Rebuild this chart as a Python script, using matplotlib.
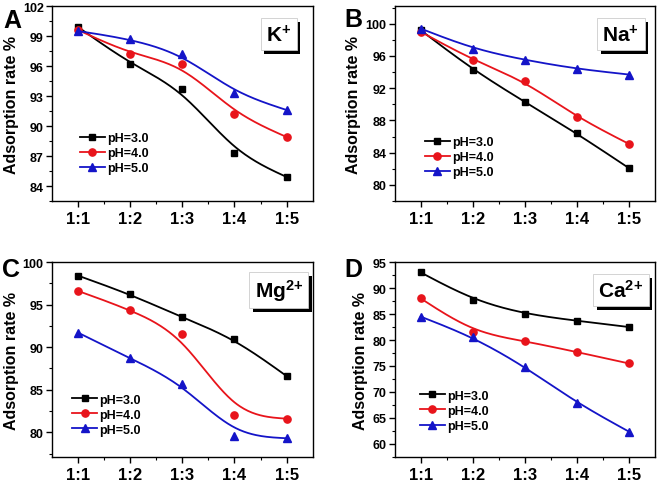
import numpy as np
import matplotlib
matplotlib.use('Agg')
import matplotlib.pyplot as plt
import matplotlib.patheffects as pe

plt.rcParams['font.family'] = ['Liberation Sans', 'DejaVu Sans']
plt.rcParams['font.weight'] = 'bold'
plt.rcParams['mathtext.fontset'] = 'custom'
plt.rcParams['mathtext.rm'] = 'Liberation Sans:bold'
plt.rcParams['mathtext.bf'] = 'Liberation Sans:bold'
plt.rcParams['mathtext.default'] = 'bf'

ratios = ['1:1', '1:2', '1:3', '1:4', '1:5']
ph_labels = ['pH=3.0', 'pH=4.0', 'pH=5.0']

# 吸附率数据
k_vals = [[99.9, 96.2, 93.7, 87.3, 84.9],
          [99.6, 97.2, 96.2, 91.2, 88.9],
          [99.5, 98.7, 97.2, 93.3, 91.6]]
na_vals = [[99.2, 94.3, 90.3, 86.4, 82.1],
           [99.0, 95.5, 92.9, 88.4, 85.1],
           [99.4, 96.9, 95.5, 94.4, 93.7]]
mg_vals = [[98.4, 96.2, 93.5, 91.0, 86.6],
           [96.6, 94.4, 91.5, 82.0, 81.6],
           [91.7, 88.7, 85.7, 79.6, 79.3]]
ca_vals = [[93.0, 87.7, 85.0, 83.7, 82.5],
           [88.0, 81.5, 79.8, 77.7, 75.5],
           [84.5, 80.6, 74.9, 67.9, 62.4]]

colors = ['black', '#e8141b', '#1414c8']
markers = ['s', 'o', '^']
msizes = [4.5, 5.2, 5.5]


# 均匀三次 B 样条（数据点作控制点，端点反射）
def bspline(p, n=40):
    p = np.asarray(p, dtype=float)
    e = np.concatenate([[2 * p[0] - p[1]], p, [2 * p[-1] - p[-2]]])
    t = np.linspace(0, 1, n)
    b0 = (1 - t) ** 3 / 6
    b1 = (3 * t ** 3 - 6 * t ** 2 + 4) / 6
    b2 = (-3 * t ** 3 + 3 * t ** 2 + 3 * t + 1) / 6
    b3 = t ** 3 / 6
    out = [b0 * e[i] + b1 * e[i + 1] + b2 * e[i + 2] + b3 * e[i + 3]
           for i in range(len(e) - 3)]
    return np.concatenate(out)


panels = [
    ('A', r'K$^{+}$', k_vals, (82.9, 102), np.arange(84, 103, 3), 1.5,
     [0.0788, 0.5835, 0.395, 0.402], (0.107, 0.354), (3, 9)),
    ('B', r'Na$^{+}$', na_vals, (80, 102.2), np.arange(80, 101, 4), 2,
     [0.598, 0.5835, 0.394, 0.402], (0.115, 0.334), (344, 8)),
    ('C', r'Mg$^{\text{2+}}$', mg_vals, (77.1, 100), np.arange(80, 101, 5), 2.5,
     [0.0788, 0.0557, 0.395, 0.402], (0.077, 0.325), (2, 258)),
    ('D', r'Ca$^{\text{2+}}$', ca_vals, (60, 95), np.arange(60, 96, 5), 2.5,
     [0.598, 0.0557, 0.394, 0.402], (0.096, 0.345), (344, 258)),
]

fig = plt.figure(figsize=(6.6, 4.85), dpi=100)
x = np.arange(1, 6)

for letter, ion, vals, ylim, yticks, yminor, rect, legpos, letpos in panels:
    ax = fig.add_axes(rect)
    for i in range(3):
        y = np.array(vals[i], dtype=float)
        ax.plot(bspline(x), bspline(y), color=colors[i], lw=1.3)
        ax.plot(x, y, linestyle='none', marker=markers[i], color=colors[i],
                ms=msizes[i])
        ax.plot([], [], color=colors[i], marker=markers[i], lw=1.3,
                ms=msizes[i], label=ph_labels[i])
    ax.set_xlim(0.5, 5.5)
    ax.set_ylim(*ylim)
    ax.set_xticks(x)
    ax.set_xticklabels(ratios, fontsize=12, fontweight='bold')
    ax.set_xticks(np.arange(1.5, 5.5, 1), minor=True)
    ax.set_yticks(yticks)
    ax.set_yticklabels([str(t) for t in yticks], fontsize=9, fontweight='bold')
    ax.set_yticks(np.arange(yticks[0] - yminor, ylim[1], yminor * 2), minor=True)
    ax.tick_params(which='major', length=4, width=1, direction='out', pad=2)
    ax.tick_params(which='minor', length=2.5, width=0.8, direction='out')
    ax.tick_params(axis='x', pad=3)
    for s in ax.spines.values():
        s.set_linewidth(1.0)
    ax.set_ylabel('Adsorption rate %', fontsize=11.5, fontweight='bold', labelpad=3)
    ax.legend(loc='upper left', bbox_to_anchor=legpos, frameon=False,
              handlelength=2.0, handletextpad=0.2, labelspacing=0.25,
              borderpad=0, borderaxespad=0, prop={'weight': 'bold', 'size': 9})
    t = ax.text(0.87, 0.855, ion, transform=ax.transAxes, fontsize=15,
                fontweight='bold', ha='center', va='center',
                bbox=dict(boxstyle='square,pad=0.25', fc='white', ec='#cccccc', lw=0.6))
    t.get_bbox_patch().set_path_effects([
        pe.SimplePatchShadow(offset=(2.5, -2.5), shadow_rgbFace='black', alpha=1),
        pe.Normal()])
    fig.text(letpos[0] / 660, 1 - letpos[1] / 485, letter, fontsize=18,
             fontweight='bold', va='top', ha='left')

fig.savefig('out.png', dpi=100)
